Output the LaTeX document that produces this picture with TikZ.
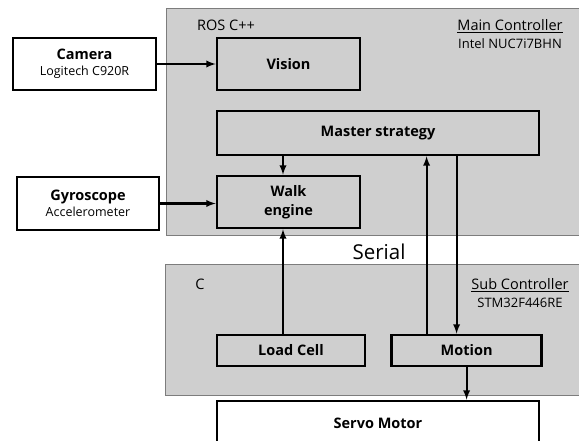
\documentclass[tikz,border=0pt]{standalone}
\usepackage{fontspec}
\setmainfont{Open Sans}
\usepackage{xcolor}
\usetikzlibrary{positioning, arrows}
\definecolor{ctrlgray}{RGB}{207,207,207}
\definecolor{edgegray}{RGB}{125,125,125}

\begin{document}
\begin{tikzpicture}[x=1pt, y=-1pt, -, node distance=24pt,
	ctrl/.style={draw=edgegray, fill=ctrlgray, line width=1pt, rectangle, inner sep=0pt},
	blk/.style={draw, line width=2.6pt, rectangle, inner sep=0pt, align=center, font=\bfseries\fontsize{14.5}{19}\selectfont},
	dev/.style={blk, fill=white},
	lbl/.style={align=center, inner sep=0pt, font=\fontsize{14.5}{18}\selectfont},
	flow/.style={-latex, line width=2.2pt}]
	\useasboundingbox (0,0) rectangle (579,441);

	% controllers
	\node[ctrl, minimum width=415pt, minimum height=227pt] (main) at (373.5,122.5) {};
	\node[ctrl, minimum width=416pt, minimum height=130pt] (sub) at (373,330) {};
	\node[lbl] (ros) at (226,25) {ROS C++};
	\node[lbl] (mainlbl) at (510,34) {\underline{Main Controller}\\{\fontsize{13}{12}\selectfont Intel NUC7i7BHN}};
	\node[lbl] (clang) at (200,284) {C};
	\node[lbl] (sublbl) at (520,293) {\underline{Sub Controller}\\{\fontsize{13}{12}\selectfont STM32F446RE}};
	\node[lbl, font=\fontsize{20.5}{21}\selectfont] (serial) at (379,252) {Serial};

	% devices
	\node[dev, minimum width=143pt, minimum height=52pt] (cam) at (84.5,64) {Camera\\[-3pt]{\mdseries\fontsize{12.5}{13}\selectfont Logitech C920R}};
	\node[dev, minimum width=142pt, minimum height=53pt] (gyro) at (88,203.5) {Gyroscope\\[-3pt]{\mdseries\fontsize{12.5}{13}\selectfont Accelerometer}};
	\node[dev, minimum width=322pt, minimum height=44pt] (servo) at (378,423) {Servo Motor};

	% blocks
	\node[blk, minimum width=143pt, minimum height=52pt] (vis) at (288.5,64) {Vision};
	\node[blk, minimum width=322pt, minimum height=44pt] (mast) at (378,133) {Master strategy};
	\node[blk, minimum width=143pt, minimum height=52pt] (walk) at (288.5,202) {Walk\\engine};
	\node[blk, minimum width=148pt, minimum height=31pt] (load) at (291,350.5) {Load Cell};
	\node[blk, minimum width=150pt, minimum height=31pt, right=of load] (mot) {Motion};

	\draw[flow] (cam) -- (vis);
	\draw[flow] (gyro.east) -- (gyro.east -| walk.west);
	\draw[flow] ([xshift=-5.5pt]mast.south -| walk.north) -- ([xshift=-5.5pt]walk.north);
	\draw[flow] ([xshift=-8pt]load.north) -- ([xshift=-8pt]load.north |- walk.south);
	\draw[flow] ([xshift=-40pt]mot.north) -- ([xshift=-40pt]mot.north |- mast.south);
	\draw[flow] ([xshift=-10pt]mot.north |- mast.south) -- ([xshift=-10pt]mot.north);
	\draw[flow] (mot.south) -- (mot.south |- servo.north);
\end{tikzpicture}
\end{document}
